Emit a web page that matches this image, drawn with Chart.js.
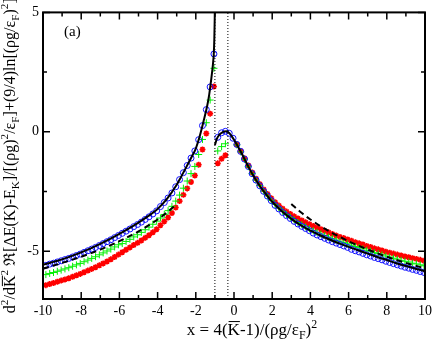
<!DOCTYPE html>
<html>
<head>
<meta charset="utf-8">
<script src="https://cdn.jsdelivr.net/npm/chart.js@4.4.1/dist/chart.umd.min.js"></script>
<style>
  html, body { margin: 0; padding: 0; background: #fff; }
  #wrap { width: 436px; height: 341px; }
</style>
</head>
<body>
<div id="wrap"><canvas id="chart" width="436" height="341"></canvas></div>
<script>
// axis ranges and ticks
const xRange = [-10, 10];
const yRange = [-7, 5];
const xTicks = [-10, -8, -6, -4, -2, 0, 2, 4, 6, 8, 10];
const xMinor = [-9, -7, -5, -3, -1, 1, 3, 5, 7, 9];
const yTicks = [-5, 0, 5];
const yMinor = [-2.5, 2.5];
const vLines = [-1, -0.32];

// simulation points, left branch (x < -1)
const xLeft = [-9.85, -9.65, -9.45, -9.25, -9.05, -8.85, -8.65, -8.45, -8.25, -8.05,
  -7.85, -7.65, -7.45, -7.25, -7.05, -6.85, -6.65, -6.45, -6.25, -6.05,
  -5.85, -5.65, -5.45, -5.25, -5.05, -4.85, -4.65, -4.45, -4.25, -4.05,
  -3.85, -3.65, -3.45, -3.25, -3.05, -2.85, -2.65, -2.45, -2.25, -2.05,
  -1.85, -1.65, -1.45, -1.25, -1.05];
const blueLeft = [-5.59, -5.54, -5.50, -5.45, -5.40, -5.35, -5.30, -5.24, -5.18, -5.12,
  -5.05, -4.98, -4.91, -4.84, -4.76, -4.68, -4.60, -4.52, -4.43, -4.34,
  -4.25, -4.16, -4.07, -3.97, -3.88, -3.78, -3.67, -3.56, -3.44, -3.31,
  -3.13, -2.96, -2.77, -2.56, -2.30, -2.00, -1.71, -1.41, -1.10, -0.80,
  -0.33, 0.26, 0.93, 1.88, 3.26];
const greenLeft = [-5.98, -5.93, -5.89, -5.84, -5.79, -5.74, -5.69, -5.63, -5.57, -5.51,
  -5.44, -5.37, -5.30, -5.23, -5.15, -5.07, -4.99, -4.91, -4.82, -4.73,
  -4.68, -4.59, -4.50, -4.40, -4.31, -4.21, -4.10, -3.99, -3.87, -3.74,
  -3.61, -3.46, -3.30, -3.12, -2.90, -2.65, -2.36, -2.06, -1.75, -1.45,
  -0.95, -0.32, 0.38, 1.33, 2.66];
const redLeft = [-6.42, -6.37, -6.33, -6.28, -6.23, -6.18, -6.13, -6.07, -6.01, -5.95,
  -5.88, -5.81, -5.74, -5.67, -5.59, -5.51, -5.43, -5.34, -5.24, -5.14,
  -5.04, -4.94, -4.84, -4.74, -4.65, -4.55, -4.44, -4.33, -4.21, -4.08,
  -3.91, -3.75, -3.59, -3.40, -3.17, -2.90, -2.64, -2.37, -2.10, -1.83,
  -1.38, -0.74, -0.07, 0.76, 1.90];

// simulation points, right branch (x > -1)
const xRight = [-0.85, -0.65, -0.45, -0.25, -0.05, 0.15, 0.35, 0.55, 0.75, 0.95,
  1.15, 1.35, 1.55, 1.75, 1.95, 2.15, 2.35, 2.55, 2.75, 2.95,
  3.15, 3.35, 3.55, 3.75, 3.95, 4.15, 4.35, 4.55, 4.75, 4.95,
  5.15, 5.35, 5.55, 5.75, 5.95, 6.15, 6.35, 6.55, 6.75, 6.95,
  7.15, 7.35, 7.55, 7.75, 7.95, 8.15, 8.35, 8.55, 8.75, 8.95,
  9.15, 9.35, 9.55, 9.75, 9.95];
const blueRight = [-0.23, -0.04, 0.02, -0.06, -0.27, -0.53, -0.82, -1.14, -1.45, -1.75,
  -2.02, -2.26, -2.49, -2.69, -2.88, -3.08, -3.23, -3.38, -3.51, -3.63,
  -3.75, -3.86, -3.96, -4.05, -4.14, -4.24, -4.32, -4.39, -4.46, -4.53,
  -4.60, -4.66, -4.72, -4.78, -4.84, -4.92, -4.98, -5.03, -5.09, -5.15,
  -5.20, -5.26, -5.31, -5.36, -5.42, -5.47, -5.52, -5.57, -5.62, -5.67,
  -5.71, -5.76, -5.80, -5.85, -5.89];
const greenRight = [-0.80, -0.62, -0.50, null, null, -0.55, -0.84, -1.15, -1.46, -1.75,
  -2.02, -2.25, -2.48, -2.68, -2.87, -3.04, -3.19, -3.33, -3.46, -3.58,
  -3.69, -3.80, -3.89, -3.98, -4.06, -4.14, -4.21, -4.28, -4.34, -4.41,
  -4.47, -4.53, -4.58, -4.64, -4.69, -4.75, -4.80, -4.85, -4.90, -4.96,
  -5.00, -5.06, -5.10, -5.15, -5.20, -5.24, -5.29, -5.33, -5.38, -5.42,
  -5.45, -5.50, -5.53, -5.57, -5.61];
const redRight = [-1.32, -1.13, -0.98, null, null, -0.53, -0.81, -1.11, -1.41, -1.70,
  -1.96, -2.19, -2.41, -2.60, -2.78, -2.95, -3.09, -3.22, -3.34, -3.44,
  -3.54, -3.63, -3.71, -3.79, -3.87, -3.94, -4.01, -4.08, -4.15, -4.21,
  -4.28, -4.34, -4.40, -4.45, -4.51, -4.56, -4.62, -4.67, -4.72, -4.78,
  -4.82, -4.88, -4.92, -4.97, -5.02, -5.06, -5.10, -5.14, -5.18, -5.22,
  -5.25, -5.29, -5.32, -5.36, -5.40];

// theory curve (solid)
const theoryLeftX = [-10, -9, -8, -7, -6, -5, -4.5, -4, -3.5, -3, -2.8, -2.6, -2.4, -2.2,
  -2.0, -1.8, -1.6, -1.4, -1.3, -1.2, -1.1, -1.06, -1.03, -1.01, -1.0];
const theoryLeftY = [-5.57, -5.34, -5.05, -4.69, -4.27, -3.80, -3.53, -3.23, -2.80, -2.22, -1.93, -1.63, -1.33, -1.02,
  -0.70, -0.20, 0.42, 1.10, 1.55, 2.15, 2.85, 3.26, 3.90, 4.70, 5.40];
const theoryRightX = [-1.0, -0.9, -0.8, -0.7, -0.6, -0.5, -0.4, -0.3, -0.2, -0.1, 0, 0.2, 0.4, 0.6, 0.8,
  1.0, 1.2, 1.4, 1.6, 1.8, 2.0, 2.4, 2.8, 3.2, 3.6, 4.0, 4.5, 5.0, 5.5, 6, 6.5, 7, 7.5, 8, 8.5, 9, 9.5, 10];
const theoryRightY = [-0.55, -0.30, -0.16, -0.07, -0.02, 0.01, 0.02, -0.02, -0.10, -0.21, -0.33, -0.60, -0.90, -1.22, -1.53,
  -1.82, -2.08, -2.32, -2.54, -2.74, -2.93, -3.25, -3.52, -3.76, -3.96, -4.14, -4.33, -4.51, -4.67, -4.82, -4.96, -5.10, -5.24, -5.37, -5.50, -5.62, -5.73, -5.84];

// asymptotic forms (dashed)
const asymLeftX = [-10, -9, -8, -7, -6, -5, -4, -3.5, -3];
const asymLeftY = [-5.73, -5.49, -5.23, -4.93, -4.58, -4.17, -3.67, -3.37, -3.02];
const asymRightX = [3, 3.5, 4, 5, 6, 7, 8, 9, 10];
const asymRightY = [-3.02, -3.37, -3.67, -4.17, -4.58, -4.93, -5.23, -5.49, -5.72];

const FONT = "'Liberation Serif', 'Times New Roman', 'DejaVu Serif', serif";

const pts = (xs, ys) => xs.map((x, i) => ({ x: x, y: ys[i] }));

function lineSet(xs, ys, dash, order) {
  return {
    data: pts(xs, ys), showLine: true, pointRadius: 0, borderColor: "#000",
    borderWidth: 2, borderDash: dash, cubicInterpolationMode: "monotone", order: order
  };
}
function markSet(xs, ys, style, color, r, bw, order) {
  return {
    data: pts(xs, ys), showLine: false, pointStyle: style, pointRadius: r,
    pointBorderWidth: bw, borderColor: color, backgroundColor: "rgba(0,0,0,0)", order: order
  };
}

const datasets = [
  markSet(xLeft, redLeft, "star", "#ff0000", 3, 1.6, 7),
  markSet(xRight, redRight, "star", "#ff0000", 3, 1.6, 7),
  markSet(xLeft, greenLeft, "cross", "#00f000", 3.5, 1, 6),
  markSet(xRight, greenRight, "cross", "#00f000", 3.5, 1, 6),
  markSet(xLeft, blueLeft, "circle", "#1010ff", 3, 1, 5),
  markSet(xRight, blueRight, "circle", "#1010ff", 3, 1, 5),
  lineSet(asymLeftX, asymLeftY, [6, 4], 4),
  lineSet(asymRightX, asymRightY, [6, 4], 4),
  lineSet(theoryLeftX, theoryLeftY, [], 3),
  lineSet(theoryRightX, theoryRightY, [], 3)
];
vLines.forEach(v => {
  datasets.push({
    data: [{ x: v, y: yRange[0] }, { x: v, y: yRange[1] }], showLine: true, pointRadius: 0,
    borderColor: "#000", borderWidth: 1, borderDash: [1, 2], order: 2
  });
});

// text with sup/sub/overline parts: 0 normal, 1 sup, 2 sub, 3 overline
function drawRich(ctx, parts, x, y, size, measureOnly) {
  let cx = x;
  for (const [t, m] of parts) {
    const s = (m === 1 || m === 2) ? size * 0.7 : size;
    ctx.font = s + "px " + FONT;
    const dy = m === 1 ? -size * 0.42 : (m === 2 ? size * 0.24 : 0);
    const w = ctx.measureText(t).width;
    if (!measureOnly) {
      ctx.fillText(t, cx, y + dy);
      if (m === 3) ctx.fillRect(cx + 1, y - size * 0.82, w - 1, 1);
    }
    cx += w;
  }
  return cx - x;
}

const yLabel = [["d", 0], ["2", 1], ["/d", 0], ["K", 3], ["2", 1], [" \u211C[\u0394E(K)-E", 0], ["K", 2],
  ["]/[(\u03C1g)", 0], ["2", 1], ["/\u03B5", 0], ["F", 2], ["]+(9/4)ln[(\u03C1g/\u03B5", 0], ["F", 2],
  [")", 0], ["2", 1], ["]", 0]];
const xLabel = [["x = 4(", 0], ["K", 3], ["-1)/(\u03C1g/\u03B5", 0], ["F", 2], [")", 0], ["2", 1]];

const framePlugin = {
  id: "frame",
  afterDraw(chart) {
    const ctx = chart.ctx;
    const a = chart.chartArea;
    const xs = chart.scales.x, ys = chart.scales.y;
    ctx.save();
    ctx.strokeStyle = "#000";
    ctx.fillStyle = "#000";
    // inward ticks on all four sides
    ctx.lineWidth = 1.5;
    ctx.beginPath();
    const xt = (list, len) => list.forEach(v => {
      const p = xs.getPixelForValue(v);
      ctx.moveTo(p, a.bottom); ctx.lineTo(p, a.bottom - len);
      ctx.moveTo(p, a.top); ctx.lineTo(p, a.top + len);
    });
    const yt = (list, len) => list.forEach(v => {
      const p = ys.getPixelForValue(v);
      ctx.moveTo(a.left, p); ctx.lineTo(a.left + len, p);
      ctx.moveTo(a.right, p); ctx.lineTo(a.right - len, p);
    });
    xt(xTicks, 7); xt(xMinor, 4); yt(yTicks, 7); yt(yMinor, 4);
    ctx.stroke();
    ctx.lineWidth = 2;
    ctx.strokeRect(a.left, a.top, a.right - a.left, a.bottom - a.top);

    // panel tag
    ctx.font = "15px " + FONT;
    ctx.textBaseline = "alphabetic";
    ctx.fillText("(a)", 64, 36);

    // x axis title
    const wx = drawRich(ctx, xLabel, 0, 0, 17, true);
    drawRich(ctx, xLabel, 252 - wx / 2, 335, 17, false);

    // y axis title, rotated
    const wy = drawRich(ctx, yLabel, 0, 0, 16, true);
    ctx.translate(15, (a.top + a.bottom) / 2);
    ctx.rotate(-Math.PI / 2);
    drawRich(ctx, yLabel, -wy / 2, 0, 16, false);
    ctx.restore();
  }
};

new Chart(document.getElementById("chart"), {
  type: "scatter",
  data: { datasets: datasets },
  options: {
    responsive: false,
    animation: false,
    events: [],
    layout: { padding: { top: 7, right: 8, left: 0, bottom: 0 } },
    plugins: { legend: { display: false }, tooltip: { enabled: false } },
    scales: {
      x: {
        type: "linear", min: xRange[0], max: xRange[1],
        grid: { display: false, drawTicks: false }, border: { display: false },
        ticks: { stepSize: 2, autoSkip: false, maxRotation: 0, padding: 4, color: "#000",
          font: { family: FONT, size: 14 } },
        afterBuildTicks: s => { s.ticks = xTicks.map(v => ({ value: v })); },
        afterFit: s => { s.height = 42; }
      },
      y: {
        type: "linear", min: yRange[0], max: yRange[1],
        grid: { display: false, drawTicks: false }, border: { display: false },
        ticks: { autoSkip: false, padding: 4, color: "#000", font: { family: FONT, size: 14 } },
        afterBuildTicks: s => { s.ticks = yTicks.map(v => ({ value: v })); },
        afterFit: s => { s.width = 43; }
      }
    }
  },
  plugins: [framePlugin]
});
</script>
</body>
</html>
